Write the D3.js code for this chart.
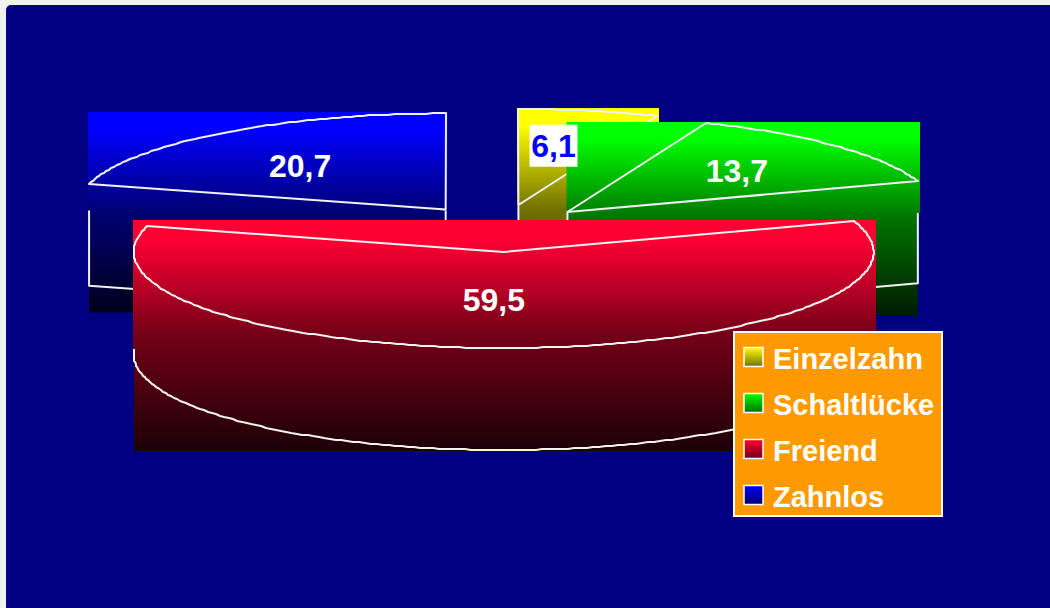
<!DOCTYPE html>
<html>
<head>
<meta charset="utf-8">
<script src="https://cdn.jsdelivr.net/npm/d3@7"></script>
<style>
  html, body { margin: 0; padding: 0; background: #f0f0f0; }
  svg { display: block; }
</style>
</head>
<body>
<svg id="chart" width="1050" height="608"></svg>
<script>
// Share of gap types (percent), clockwise from 12 o'clock
const categories = ["Einzelzahn", "Schaltlücke", "Freiend", "Zahnlos"];
const shares = [6.1, 13.7, 59.5, 20.7];
const valueLabels = ["6,1", "13,7", "59,5", "20,7"];
const sliceColors = ["#ffff00", "#00ff00", "#ff0033", "#0000ff"];

// Layout of the tilted, exploded pie
const W = 1050, H = 608;
const geo = { cx: 501, cy: 228.3, rx: 370, ry: 96, depth: 102, explode: 0.247 };
const labelFrac = [0.64, 0.63, 0.5, 0.65];
const labelNudge = [[-10, 1], [0, 0], [-15, 0], [0, 6]];
const FONT = "'Liberation Sans', Arial, Helvetica, sans-serif";

const svg = d3.select("#chart");
const defs = svg.append("defs");

// background panel
svg.append("rect")
  .attr("x", 6).attr("y", 5)
  .attr("width", W).attr("height", H)
  .attr("rx", 5)
  .attr("fill", "#000080");

// brightness falls off from top to bottom of every slice
const shadeStops = [[0, 1], [0.08, 1], [0.5, 0.45], [1, 0.11]];
function shade(color, k) {
  const c = d3.rgb(color);
  return d3.rgb(c.r * k, c.g * k, c.b * k).formatHex();
}

const arcs = d3.pie().sort(null).value(d => d)(shares);

const slices = arcs.map((p, i) => {
  const m = (p.startAngle + p.endAngle) / 2;
  return {
    i, a0: p.startAngle, a1: p.endAngle, m,
    cx: geo.cx + geo.explode * geo.rx * Math.sin(m),
    cy: geo.cy - geo.explode * geo.ry * Math.cos(m)
  };
});

const pt = (s, a, dz = 0) => [s.cx + geo.rx * Math.sin(a), s.cy - geo.ry * Math.cos(a) + dz];
function arcPts(s, a0, a1, dz = 0) {
  const n = Math.max(2, Math.ceil(Math.abs(a1 - a0) / (Math.PI / 180)));
  return d3.range(n + 1).map(k => {
    const p = pt(s, a0 + (a1 - a0) * k / n, dz);
    return [Math.round(p[0]), Math.round(p[1])];
  });
}
const line = d3.line();
const closed = pts => line(pts) + "Z";

slices.forEach(s => {
  s.top = [[s.cx, s.cy], ...arcPts(s, s.a0, s.a1)];
  s.sides = [];
  const D = geo.depth;
  // front part of the rim
  const w0 = Math.max(s.a0, Math.PI / 2), w1 = Math.min(s.a1, 3 * Math.PI / 2);
  if (w0 < w1) s.sides.push([...arcPts(s, w0, w1, 0), ...arcPts(s, w1, w0, D)]);
  // cut faces that turn towards the viewer
  if (Math.sin(s.a0) < -1e-6) s.sides.push([[s.cx, s.cy], pt(s, s.a0), pt(s, s.a0, D), [s.cx, s.cy + D]]);
  if (Math.sin(s.a1) > 1e-6) s.sides.push([[s.cx, s.cy], pt(s, s.a1), pt(s, s.a1, D), [s.cx, s.cy + D]]);
  const ext = pts => ({ x: d3.extent(pts, d => d[0]), y: d3.extent(pts, d => d[1]) });
  s.topBox = ext(s.top);
  s.sideBox = s.sides.length ? ext(s.sides.flat()) : null;
  const yTop = s.topBox.y[0];
  const yBot = s.sideBox ? Math.max(s.sideBox.y[1], s.topBox.y[1]) : s.topBox.y[1];

  const g = defs.append("linearGradient")
    .attr("id", "grad" + s.i)
    .attr("gradientUnits", "userSpaceOnUse")
    .attr("x1", 0).attr("x2", 0).attr("y1", yTop).attr("y2", yBot);
  shadeStops.forEach(([o, k]) => g.append("stop").attr("offset", o).attr("stop-color", shade(sliceColors[s.i], k)));
});

// paint back to front
const order = slices.slice().sort((a, b) => a.cy - b.cy);
const gSlices = svg.append("g");
order.forEach(s => {
  const g = gSlices.append("g");
  const fill = `url(#grad${s.i})`;
  if (s.sideBox) {
    g.append("rect")
      .attr("x", s.sideBox.x[0]).attr("y", s.sideBox.y[0])
      .attr("width", s.sideBox.x[1] - s.sideBox.x[0])
      .attr("height", s.sideBox.y[1] - s.sideBox.y[0] + 1)
      .attr("fill", fill);
    s.sides.forEach(poly => g.append("path")
      .attr("d", closed(poly))
      .attr("fill", "none").attr("stroke", "#f2f2f2").attr("stroke-width", 2)
      .attr("stroke-linejoin", "round"));
  }
  g.append("rect")
    .attr("x", s.topBox.x[0] - 1).attr("y", s.topBox.y[0] - 1)
    .attr("width", s.topBox.x[1] - s.topBox.x[0] + 3)
    .attr("height", s.topBox.y[1] - s.topBox.y[0] + 2)
    .attr("fill", fill);
  g.append("path")
    .attr("d", closed(s.top))
    .attr("fill", "none").attr("stroke", "#f2f2f2").attr("stroke-width", 2)
    .attr("stroke-linejoin", "round");
});

// value labels
const gLabels = svg.append("g")
  .attr("font-family", FONT).attr("font-weight", "bold").attr("font-size", 32)
  .attr("text-anchor", "middle");
slices.forEach(s => {
  const f = labelFrac[s.i];
  const x = s.cx + f * geo.rx * Math.sin(s.m) + labelNudge[s.i][0];
  const y = s.cy - f * geo.ry * Math.cos(s.m) + labelNudge[s.i][1];
  const boxed = s.i === 0;
  if (boxed) {
    gLabels.append("rect")
      .attr("x", x - 24).attr("y", y - 21)
      .attr("width", 48).attr("height", 42)
      .attr("fill", "#ffffff");
  }
  gLabels.append("text")
    .attr("x", x).attr("y", y + 11.5)
    .attr("fill", boxed ? "#0000ff" : "#ffffff")
    .text(valueLabels[s.i]);
});

// legend
const legend = svg.append("g");
legend.append("rect")
  .attr("x", 734).attr("y", 332).attr("width", 208).attr("height", 184)
  .attr("fill", "#ff9900").attr("stroke", "#ffffff").attr("stroke-width", 2);
categories.forEach((c, i) => {
  const lg = defs.append("linearGradient").attr("id", "lgrad" + i)
    .attr("x1", 0).attr("x2", 0).attr("y1", 0).attr("y2", 1);
  [[0, 1], [1, 0.45]].forEach(([o, k]) => lg.append("stop").attr("offset", o).attr("stop-color", shade(sliceColors[i], k)));
  const y0 = 347.5 + i * 46;
  legend.append("rect")
    .attr("x", 744).attr("y", y0).attr("width", 19).attr("height", 19)
    .attr("fill", `url(#lgrad${i})`)
    .attr("stroke", "#ffffff").attr("stroke-width", 1.5);
  legend.append("text")
    .attr("x", 773).attr("y", y0 + 21.5)
    .attr("font-family", FONT).attr("font-weight", "bold").attr("font-size", 29)
    .attr("fill", "#ffffff")
    .text(c);
});
</script>
</body>
</html>
